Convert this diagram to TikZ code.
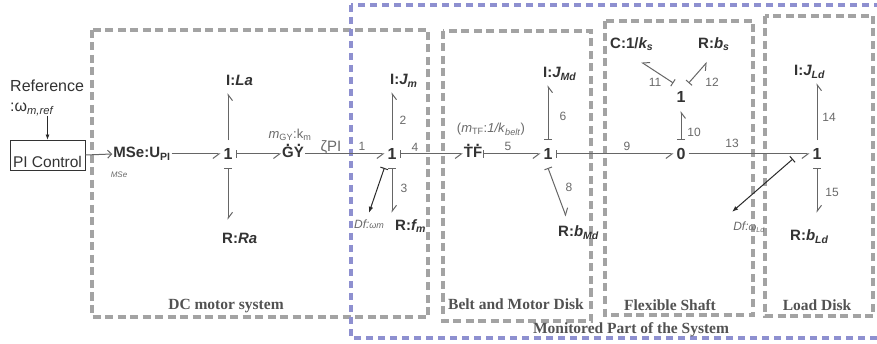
\documentclass[tikz,border=0pt]{standalone}
\usepackage{fontspec}
\setmainfont{Liberation Sans}
\newfontfamily\boxfont{Liberation Serif}
\usetikzlibrary{arrows.meta}
\definecolor{boxgray}{HTML}{A3A3A3}
\definecolor{boxblue}{HTML}{8E90D0}
\definecolor{elemcol}{HTML}{333333}
\definecolor{bondcol}{HTML}{666666}
\definecolor{lblcol}{HTML}{6A6A6A}
\definecolor{dfcol}{HTML}{2A2A2A}
\newcommand\dtop[1]{\ooalign{#1\cr\hidewidth\raisebox{11.5pt}{.}\hidewidth\cr}}
\begin{document}
\begin{tikzpicture}[x=1pt,y=-1pt,
  gbox/.style={draw=boxgray,line width=3.5pt,dash pattern=on 8pt off 4.5pt},
  bbox/.style={draw=boxblue,line width=3.5pt,dash pattern=on 7pt off 5pt},
  boxlab/.style={font=\boxfont\bfseries\fontsize{15.5}{17}\selectfont,text=elemcol!85,inner sep=1pt},
  elem/.style={font=\fontsize{15}{17}\selectfont\bfseries,text=elemcol,inner sep=1pt,text height=11pt,text depth=3pt},
  junc/.style={font=\fontsize{16}{18}\selectfont\bfseries,text=elemcol,inner xsep=3pt,inner ysep=8pt,text height=11.5pt,text depth=0pt},
  blab/.style={font=\fontsize{12}{12}\selectfont,text=lblcol,inner sep=0pt},
  glab/.style={font=\fontsize{13}{14}\selectfont,text=lblcol,inner sep=0pt},
  dflab/.style={font=\fontsize{12}{13}\selectfont\itshape,text=lblcol,inner sep=1pt,text height=9pt,text depth=3pt},
  bond/.style={draw=bondcol,line width=1pt},
  hr/.style={-{Straight Barb[right,length=6pt,width=9pt]}},
  sr/.style={{Bar[width=8pt]}-{Straight Barb[right,length=6pt,width=9pt]}},
  sl/.style={{Bar[width=8pt]}-{Straight Barb[left,length=6pt,width=9pt]}},
  sdf/.style={draw=dfcol,line width=1pt,{Bar[width=8pt]}-{Latex[length=6pt,width=4.5pt]}}
]
\useasboundingbox (0,0) rectangle (877,344);
\fill[white] (0,0) rectangle (877,344);

% subsystem boxes
\draw[gbox] (92,30) rectangle (428,317);
\draw[gbox] (443,31) rectangle (591,321);
\draw[gbox] (605,21) rectangle (753,315);
\draw[gbox] (765,16) rectangle (873,316);
\draw[bbox] (351,5) rectangle (895,338);

\node[boxlab] (lDC) at (226,306) {DC motor system};
\node[boxlab] (lBelt) at (516,304) {Belt and Motor Disk};
\node[boxlab] (lFlex) at (670,305) {Flexible Shaft};
\node[boxlab] (lLoad) at (817,305) {Load Disk};
\node[boxlab] (lMon) at (631,330) {Monitored Part of the System};

% controller
\node[align=left,anchor=west,font=\fontsize{16}{20}\selectfont,text=elemcol,inner sep=0pt] (ref) at (10,98)
  {Reference\\:ω\textsubscript{\textit{m,ref}}};
\node[draw=elemcol,line width=0.8pt,minimum width=75pt,inner xsep=0pt,inner ysep=0pt,
  text height=28pt,text depth=2pt,font=\fontsize{15.5}{17}\selectfont,text=elemcol] (PI) at (47.5,155) {PI Control};
\node[elem] (MSe) at (142,154) {MSe:U\textsubscript{PI}};
\node[font=\fontsize{8}{8}\selectfont\itshape,text=lblcol,inner sep=0pt] (MSelab) at (119,175) {MSe};

% DC motor
\node[junc] (j1a) at (228,154) {1};
\node[elem,anchor=west] (La) at (225,81.4) {I:\textit{La}};
\node[elem,anchor=west] (Ra) at (221,239.5) {R:\textit{Ra}};
\node[elem] (GY) at (293,154) {\dtop{G}\dtop{Y}};
\node[glab] (GYlab) at (290,135) {\textit{m}\textsubscript{GY}:k\textsubscript{m}};
\node[glab,font=\fontsize{15}{16}\selectfont] (zeta) at (331,147) {ζPI};

% motor inertia
\node[junc] (j1b) at (392,154) {1};
\node[elem,anchor=west] (Jm) at (389,81) {I:\textit{J\textsubscript{m}}};
\node[elem,anchor=west] (fm) at (394,226.5) {R:\textit{f\textsubscript{m}}};
\node[dflab] (Dfm) at (369,226) {Df:{\fontsize{9}{9}\selectfont ωm}};

% belt and motor disk
\node[elem] (TF) at (473,154) {\dtop{T}\dtop{F}};
\node[glab] (TFlab) at (491,129.5) {(\textit{m}\textsubscript{TF}:\textit{1/k}\textsubscript{\textit{belt}})};
\node[junc] (j1c) at (548,154) {1};
\node[elem,anchor=west] (JMd) at (542,74) {I:\textit{J\textsubscript{Md}}};
\node[elem,anchor=west] (bMd) at (557,232.5) {R:\textit{b\textsubscript{Md}}};

% flexible shaft
\node[junc] (j0) at (681,154) {0};
\node[junc] (ju) at (681,97) {1};
\node[elem,anchor=west] (C) at (609,44.5) {C:1/\textit{k\textsubscript{s}}};
\node[elem,anchor=west] (Rbs) at (697,44.5) {R:\textit{b\textsubscript{s}}};

% load disk
\node[junc] (j1d) at (817,154) {1};
\node[elem,anchor=west] (JLd) at (793,71.5) {I:\textit{J\textsubscript{Ld}}};
\node[elem,anchor=west] (bLd) at (789,236.5) {R:\textit{b\textsubscript{Ld}}};
\node[dflab] (DfLd) at (749,228) {Df:{\fontsize{10}{10}\selectfont ω\textsubscript{Ld}}};

% signal arrows
\draw[dfcol,line width=0.8pt,-{Latex[length=5pt,width=4pt]}] (ref.south -| PI.north) -- (PI.north);
\draw[bondcol,line width=1pt,-{Straight Barb[length=4pt,width=8pt]}] (PI.east) -- (MSe.west);

% bonds
\draw[bond,hr] (MSe.east) -- (j1a.west);
\draw[bond,hr,shorten >=3.5pt] (j1a.north) -- (j1a.north |- La.south);
\draw[bond,sl,shorten >=11.5pt] (j1a.south) -- (j1a.south |- Ra.north);
\draw[bond,sr] (j1a.east) -- (GY.west);
\draw[bond,hr] (GY.east) -- (j1b.west);
\draw[bond,hr,shorten >=3pt] (j1b.north) -- (j1b.north |- Jm.south);
\draw[bond,sl,shorten >=5.5pt] (j1b.south) -- (j1b.south |- fm.north);
\draw[sdf] (j1b.south west) -- ([yshift=6pt]Dfm.north);
\draw[bond,sr] (j1b.east) -- (TF.west);
\draw[bond,sr] (TF.east) -- (j1c.west);
\draw[bond,sr,shorten >=3pt] (j1c.north) -- (j1c.north |- JMd.south);
\draw[bond,sl] (j1c.south) -- ([xshift=9pt,yshift=8pt]bMd.north west);
\draw[bond,sr] (j1c.east) -- (j0.west);
\draw[bond,sr] (j0.north) -- (ju.south);
\draw[bond,sr] (ju.north west) -- ([xshift=-13pt,yshift=-9.5pt]C.south east);
\draw[bond,sr] (ju.north east) -- ([xshift=10pt,yshift=-9.5pt]Rbs.south west);
\draw[bond,hr] (j0.east) -- (j1d.west);
\draw[bond,hr,shorten >=3.5pt] (j1d.north) -- (j1d.north |- JLd.south);
\draw[bond,sl,shorten >=15.5pt] (j1d.south) -- (j1d.south |- bLd.north);
\draw[sdf] ([xshift=-16.5pt,yshift=-5pt]j1d.west) -- ([yshift=9pt]DfLd.north west);

% bond numbers
\node[blab] (n1) at (362,146) {1};
\node[blab] (n2) at (403,120) {2};
\node[blab] (n3) at (404,188) {3};
\node[blab] (n4) at (415,147) {4};
\node[blab] (n5) at (508,146) {5};
\node[blab] (n6) at (563,116) {6};
\node[blab] (n8) at (569,187) {8};
\node[blab] (n9) at (627,146) {9};
\node[blab] (n10) at (694,132) {10};
\node[blab] (n11) at (655,82) {11};
\node[blab] (n12) at (712,82) {12};
\node[blab] (n13) at (732,143) {13};
\node[blab] (n14) at (829,117) {14};
\node[blab] (n15) at (832,192) {15};
\end{tikzpicture}
\end{document}
